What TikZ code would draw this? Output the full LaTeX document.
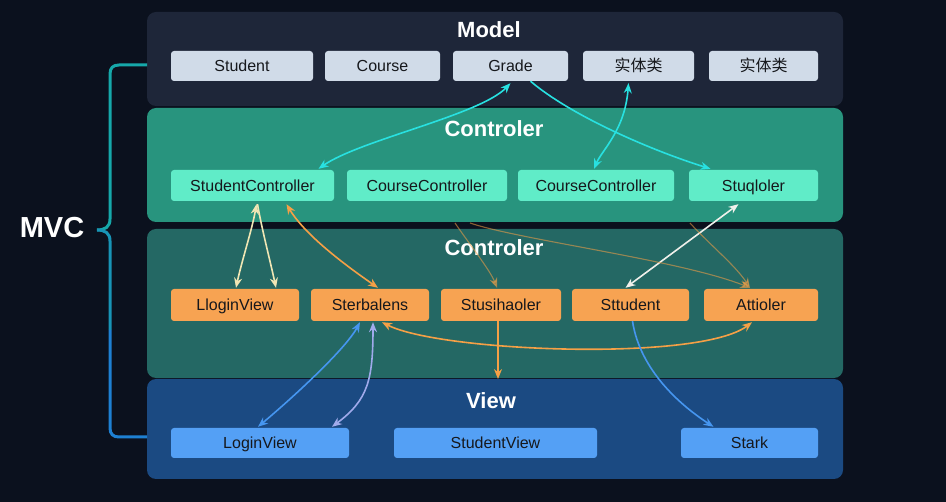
\documentclass[tikz,border=0pt]{standalone}
\usepackage{fontspec}
\setmainfont{Liberation Sans}
\newfontfamily\cjk{Noto Sans CJK SC}
\usetikzlibrary{arrows.meta}
\definecolor{bgc}{RGB}{11,17,30}
\definecolor{pmodel}{RGB}{30,38,57}
\definecolor{pctrl}{RGB}{40,148,126}
\definecolor{pctrlb}{RGB}{36,104,100}
\definecolor{pview}{RGB}{27,74,130}
\definecolor{mboxc}{RGB}{208,219,232}
\definecolor{cboxc}{RGB}{96,236,200}
\definecolor{oboxc}{RGB}{247,163,82}
\definecolor{vboxc}{RGB}{84,160,245}
\definecolor{txtc}{RGB}{22,24,28}
\definecolor{cyanc}{RGB}{40,225,225}
\definecolor{creamc}{RGB}{240,230,180}
\definecolor{orangec}{RGB}{245,160,70}
\definecolor{whitec}{RGB}{240,240,235}
\definecolor{bluec}{RGB}{70,150,240}
\definecolor{lavc}{RGB}{160,170,235}
\definecolor{braceA}{RGB}{22,168,170}
\definecolor{braceB}{RGB}{24,148,182}
\definecolor{braceC}{RGB}{30,128,210}
\newcommand\bxfont{\fontsize{16}{19}\selectfont}
\newcommand\ttlfont{\fontsize{22}{26}\selectfont\bfseries}
\begin{document}
\begin{tikzpicture}[x=1pt,y=-1pt,
  panel/.style={rounded corners=9pt, inner sep=0pt, draw=none},
  ttl/.style={text=white, font=\ttlfont, inner sep=0pt},
  bx/.style={rounded corners=3pt, text=txtc, font=\bxfont, inner sep=0pt, text height=11.5pt, text depth=0pt},
  mbx/.style={bx, fill=mboxc, minimum height=30pt},
  cbx/.style={bx, fill=cboxc, minimum height=31pt},
  obx/.style={bx, fill=oboxc, minimum height=32pt},
  vbx/.style={bx, fill=vboxc, minimum height=30pt},
  conn/.style={line width=1.6pt, -{Stealth[length=10pt,width=8pt]}},
  bconn/.style={line width=1.6pt, {Stealth[length=10pt,width=8pt]}-{Stealth[length=10pt,width=8pt]}},
  faint/.style={line width=1.1pt, orangec, opacity=0.55, -{Stealth[length=10pt,width=8pt]}},
  bracestroke/.style={line width=3pt}
]
\useasboundingbox (0,0) rectangle (946,502);
\fill[bgc] (0,0) rectangle (946,502);

% panels
\node[panel, fill=pmodel, minimum width=696pt, minimum height=94pt] (pModel) at (495,59) {};
\node[panel, fill=pctrl, minimum width=696pt, minimum height=114pt] (pCtrl) at (495,165) {};
\node[panel, fill=pctrlb, minimum width=696pt, minimum height=149pt] (pCtrlB) at (495,303.5) {};
\node[panel, fill=pview, minimum width=696pt, minimum height=100pt] (pView) at (495,429) {};

% titles
\node[ttl] (tModel) at (489,30) {Model};
\node[ttl] (tCtrl) at (494,129) {Controler};
\node[ttl] (tCtrlB) at (494,248) {Controler};
\node[ttl] (tView) at (491,401) {View};

% brace and MVC label
\coordinate (bt) at (147,65);
\coordinate (bb) at (147,437);
\coordinate (btip) at (97,230);
\coordinate (bmid) at (110,330);
\draw[bracestroke, braceA] (bt) -- (119,65) .. controls (113,65) and (110,68) .. (110,74) -- (110,219) .. controls (110,227) and (105,230) .. (btip);
\draw[bracestroke, braceB] (btip) .. controls (105,230) and (110,233) .. (110,241) -- (bmid);
\draw[bracestroke, braceC] (bmid) -- (110,428) .. controls (110,434) and (113,437) .. (119,437) -- (bb);
\node[text=white, font=\fontsize{29}{34}\selectfont\bfseries, inner sep=0pt] (mvc) at (52,228) {MVC};

% model boxes
\node[mbx, minimum width=142pt] (mStudent) at (242,66) {Student};
\node[mbx, minimum width=115pt] (mCourse) at (382.5,66) {Course};
\node[mbx, minimum width=115pt] (mGrade) at (510.5,66) {Grade};
\node[mbx, minimum width=111pt] (mE1) at (638.5,66) {\cjk 实体类};
\node[mbx, minimum width=109pt] (mE2) at (763.5,66) {\cjk 实体类};

% controller boxes
\node[cbx, minimum width=163pt] (cSC) at (252.5,185.5) {StudentController};
\node[cbx, minimum width=160pt] (cCC1) at (427,185.5) {CourseController};
\node[cbx, minimum width=156pt] (cCC2) at (596,185.5) {CourseController};
\node[cbx, minimum width=129pt] (cSq) at (753.5,185.5) {Stuqloler};

% orange boxes
\node[obx, minimum width=128pt] (oLogin) at (235,305) {LloginView};
\node[obx, minimum width=118pt] (oSter) at (370,305) {Sterbalens};
\node[obx, minimum width=120pt] (oStus) at (501,305) {Stusihaoler};
\node[obx, minimum width=117pt] (oStud) at (630.5,305) {Sttudent};
\node[obx, minimum width=114pt] (oAtt) at (761,305) {Attioler};

% view boxes
\node[vbx, minimum width=178pt] (vLogin) at (260,443) {LoginView};
\node[vbx, minimum width=203pt] (vStud) at (495.5,443) {StudentView};
\node[vbx, minimum width=137pt] (vStark) at (749.5,443) {Stark};

% free ends
\coordinate (fa) at (455,223);
\coordinate (fb) at (470,223);
\coordinate (fc) at (690,223);
\coordinate (vEnd) at (498,379);

% connectors: model <-> controller
\draw[bconn, cyanc] ([yshift=-2pt]mGrade.south) .. controls (480,115) and (360,140) .. ([xshift=66pt,yshift=1pt]cSC.north);
\draw[conn, cyanc] ([xshift=20pt]mGrade.south) .. controls (570,115) and (650,150) .. ([xshift=-43pt,yshift=1pt]cSq.north);
\draw[bconn, cyanc] ([xshift=-10pt,yshift=-2pt]mE1.south) .. controls (625,130) and (602,150) .. ([xshift=-2pt,yshift=1pt]cCC2.north);

% controller -> lower controller
\draw[bconn, whitec] ([xshift=-15pt,yshift=-3pt]cSq.south) -- ([xshift=-5pt,yshift=1pt]oStud.north);
\draw[bconn, creamc] ([xshift=4pt,yshift=-3pt]cSC.south) .. controls (252,230) and (242,260) .. ([xshift=1pt,yshift=1pt]oLogin.north);
\draw[conn, creamc] ([xshift=5pt,yshift=-3pt]cSC.south) .. controls (262,230) and (270,260) .. ([xshift=41pt,yshift=1pt]oLogin.north);
\draw[bconn, orangec] ([xshift=34pt,yshift=-3pt]cSC.south) .. controls (305,235) and (345,265) .. ([xshift=8pt,yshift=1pt]oSter.north);

% faint lines
\draw[faint] (fa) .. controls (470,245) and (490,270) .. ([xshift=-4pt,yshift=1pt]oStus.north);
\draw[faint] (fb) .. controls (520,240) and (680,260) .. ([xshift=-11pt,yshift=1pt]oAtt.north);
\draw[faint] (fc) .. controls (710,245) and (735,265) .. ([xshift=-11pt,yshift=1pt]oAtt.north);

% lower controller connections
\draw[conn, orangec] ([xshift=-3pt]oStus.south) -- (vEnd);
\draw[bconn, orangec] ([xshift=12pt,yshift=-1pt]oSter.south) .. controls (440,352) and (700,362) .. ([xshift=-9pt,yshift=-1pt]oAtt.south);

% to view
\draw[bconn, bluec] ([xshift=-10pt,yshift=-1pt]oSter.south) .. controls (345,350) and (290,400) .. ([xshift=-2pt,yshift=1pt]vLogin.north);
\draw[bconn, lavc] ([xshift=3pt,yshift=-1pt]oSter.south) .. controls (373,380) and (368,400) .. ([xshift=72pt,yshift=1pt]vLogin.north);
\draw[conn, bluec] ([xshift=2pt]oStud.south) .. controls (640,370) and (680,405) .. ([xshift=-36pt,yshift=1pt]vStark.north);
\end{tikzpicture}
\end{document}
